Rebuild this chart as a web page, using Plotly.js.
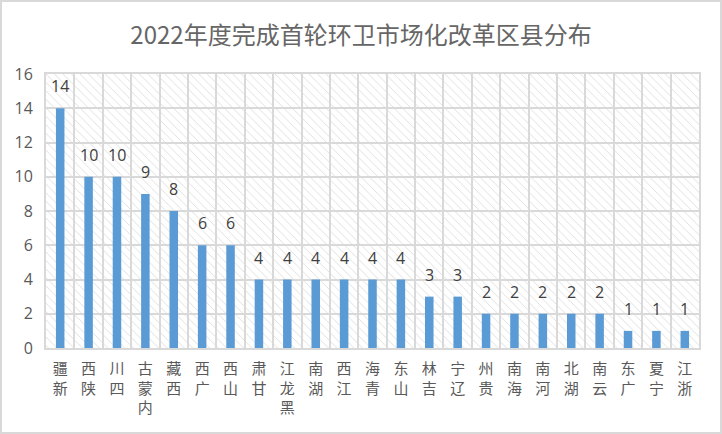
<!DOCTYPE html>
<html>
<head>
<meta charset="utf-8">
<script src="https://cdn.plot.ly/plotly-3.0.1.min.js"></script>
<style>
  html, body { margin: 0; padding: 0; background: #fff; }
  #wrap { position: relative; width: 722px; height: 434px; }
  #myDiv { width: 722px; height: 434px; }
  #frame { position: absolute; left: 0; top: 0; width: 722px; height: 434px;
           box-sizing: border-box; border: 2px solid #d9d9d9; pointer-events: none; }
</style>
</head>
<body>
<div id="wrap">
  <div id="myDiv"></div>
  <div id="frame"></div>
</div>
<script>
const regions = ['新疆', '陕西', '四川', '内蒙古', '西藏', '广西', '山西', '甘肃', '黑龙江', '湖南',
                 '江西', '青海', '山东', '吉林', '辽宁', '贵州', '海南', '河南', '湖北', '云南',
                 '广东', '宁夏', '浙江'];
const counts = [14, 10, 10, 9, 8, 6, 6, 4, 4, 4, 4, 4, 4, 3, 3, 2, 2, 2, 2, 2, 1, 1, 1];
const yTicks = [0, 2, 4, 6, 8, 10, 12, 14, 16];

// labels read bottom-to-top, one upright character per line
const tickText = regions.map(r => Array.from(r).reverse().join('<br>'));

const font = 'Noto Sans CJK SC, Noto Sans, sans-serif';
const grey = '#d9d9d9';

// hatched background of the plot area (sits in the lower subplot)
var backdrop = {
  x: [0], y: [16],
  type: 'bar', width: 1,
  xaxis: 'x', yaxis: 'y',
  marker: { color: '#ffffff', line: { width: 0 },
            pattern: { shape: '\\', fgcolor: '#dcdcdc', bgcolor: '#ffffff', size: 6, solidity: 0.15 } },
  hoverinfo: 'skip', showlegend: false
};

var bars = {
  x: regions, y: counts,
  type: 'bar', width: 0.3,
  xaxis: 'x2', yaxis: 'y2',
  marker: { color: '#5b9bd5' },
  showlegend: false
};

// value labels, lifted a little higher than plotly's own outside text
var labels = regions.map((r, i) => ({
  x: r, y: counts[i], xref: 'x2', yref: 'y2',
  text: String(counts[i]), showarrow: false,
  yanchor: 'bottom', yshift: 9,
  font: { family: 'Open Sans, Noto Sans, sans-serif', size: 16, color: '#404040' }
}));

var layout = {
  width: 722, height: 434,
  margin: { l: 46, r: 23, t: 74, b: 86 },
  paper_bgcolor: 'rgba(0,0,0,0)',
  plot_bgcolor: 'rgba(0,0,0,0)',
  title: { text: '2022年度完成首轮环卫市场化改革区县分布',
           font: { family: font, size: 24, color: '#666666' },
           x: 0.5, xanchor: 'center', y: 0.918, yanchor: 'middle' },
  xaxis: { domain: [0, 1], range: [-0.5, 0.5], visible: false, fixedrange: true },
  yaxis: { domain: [0, 1], range: [0, 16], visible: false, fixedrange: true },
  xaxis2: { domain: [0, 1], anchor: 'y2', type: 'category',
            tickvals: regions, ticktext: tickText, tickangle: 0,
            tickson: 'boundaries', ticks: '', showgrid: true, gridcolor: grey, gridwidth: 2,
            showline: true, linecolor: grey, linewidth: 2, mirror: true,
            ticklabelstandoff: 6,
            tickfont: { family: font, size: 15, color: '#595959' } },
  yaxis2: { domain: [0, 1], anchor: 'x2', range: [0, 16], tickvals: yTicks,
            showgrid: true, gridcolor: grey, gridwidth: 2, zeroline: false,
            showline: true, linecolor: grey, linewidth: 2, mirror: true,
            ticks: '', ticklabelstandoff: 8,
            tickfont: { family: 'Open Sans, Noto Sans, sans-serif', size: 16, color: '#595959' } },
  annotations: labels,
  bargap: 0.7
};

Plotly.newPlot('myDiv', [backdrop, bars], layout, { displayModeBar: false, staticPlot: true });
</script>
</body>
</html>
